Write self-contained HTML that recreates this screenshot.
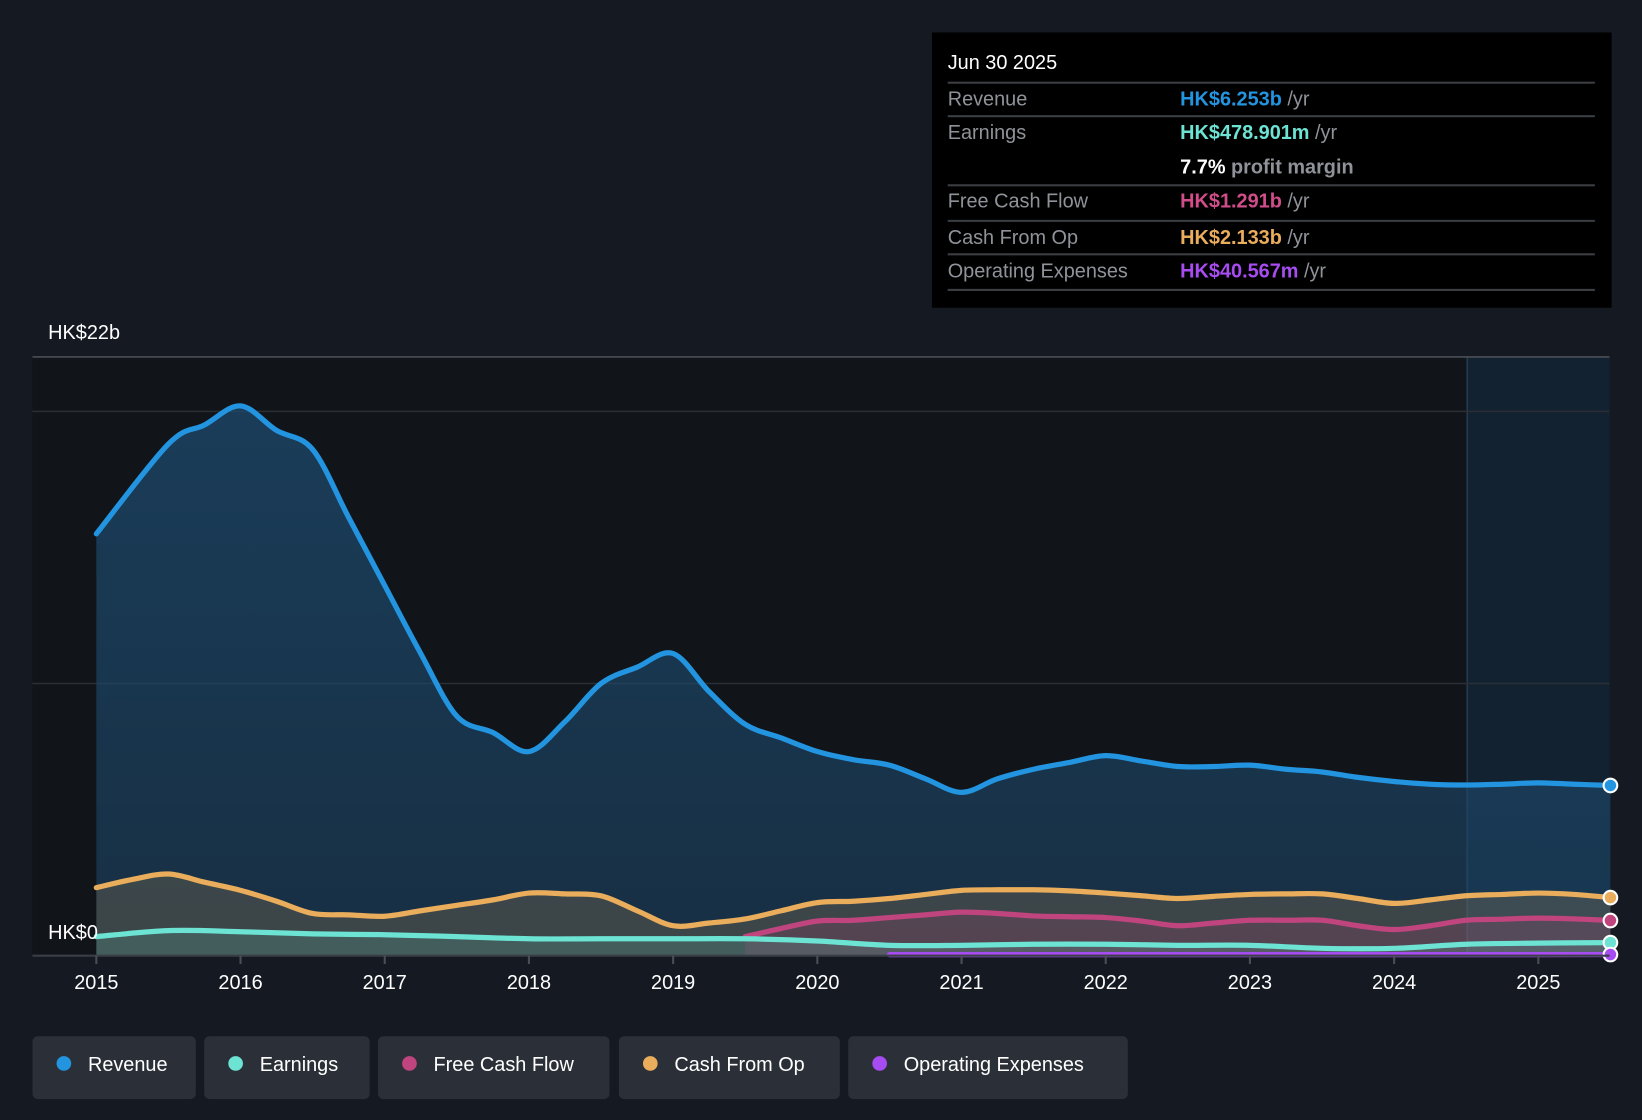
<!DOCTYPE html>
<html><head><meta charset="utf-8"><style>
html,body{margin:0;padding:0;background:#151a22;}
svg{display:block;font-family:"Liberation Sans",sans-serif;}
</style></head><body>
<svg id="chart" width="1642" height="1120" viewBox="0 0 1568 1070" preserveAspectRatio="none" xmlns="http://www.w3.org/2000/svg">
<defs>
<linearGradient id="revFill" x1="0" y1="0" x2="0" y2="1"><stop offset="0" stop-color="#1d4a6e" stop-opacity="0.75"/><stop offset="1" stop-color="#1d4a6e" stop-opacity="0.5"/></linearGradient>
</defs>
<rect x="0" y="0" width="1568" height="1070" fill="#151a22"/>
<rect x="31" y="341" width="1506" height="572" fill="#111419"/>
<rect x="1401" y="341" width="136" height="572" fill="#16304a" opacity="0.5"/>
<line x1="1401" y1="341" x2="1401" y2="913" stroke="#2a4a66" stroke-width="1"/>
<g id="grid"></g>
<g id="areas"></g>
<g id="lines"></g>
<g id="xaxis"></g>
<text x="46" y="324" fill="#fff" font-size="19">HK$22b</text>
<text x="46" y="897" fill="#fff" font-size="19">HK$0</text>

<g>
<rect x="890" y="31" width="649" height="263" fill="#000"/>
<text x="905" y="66" fill="#fff" font-size="19">Jun 30 2025</text>
<g stroke="#3a3d42" stroke-width="2">
<line x1="905" y1="79" x2="1523" y2="79"/><line x1="905" y1="111" x2="1523" y2="111"/>
<line x1="905" y1="177" x2="1523" y2="177"/><line x1="905" y1="211" x2="1523" y2="211"/>
<line x1="905" y1="243" x2="1523" y2="243"/><line x1="905" y1="277" x2="1523" y2="277"/>
</g>
<g font-size="19" fill="#8f9399">
<text x="905" y="101">Revenue</text><text x="905" y="133">Earnings</text>
<text x="905" y="198">Free Cash Flow</text><text x="905" y="233">Cash From Op</text><text x="905" y="265">Operating Expenses</text>
</g>
<g font-size="19" font-weight="bold">
<text x="1127" y="101" fill="#2394df">HK$6.253b <tspan fill="#8f9399" font-weight="normal">/yr</tspan></text>
<text x="1127" y="133" fill="#6ce3d3">HK$478.901m <tspan fill="#8f9399" font-weight="normal">/yr</tspan></text>
<text x="1127" y="166" fill="#fff">7.7% <tspan fill="#8f9399">profit margin</tspan></text>
<text x="1127" y="198" fill="#d04d8a">HK$1.291b <tspan fill="#8f9399" font-weight="normal">/yr</tspan></text>
<text x="1127" y="233" fill="#e9ad5c">HK$2.133b <tspan fill="#8f9399" font-weight="normal">/yr</tspan></text>
<text x="1127" y="265" fill="#a64cf0">HK$40.567m <tspan fill="#8f9399" font-weight="normal">/yr</tspan></text>
</g>
</g>

<g font-size="19" fill="#fff">
<g><rect x="31" y="990" width="156" height="60" rx="5" fill="#2b2f37"/><circle cx="61" cy="1016" r="7" fill="#2394df"/><text x="84" y="1023" fill="#fff">Revenue</text></g>
<g><rect x="195" y="990" width="158" height="60" rx="5" fill="#2b2f37"/><circle cx="225" cy="1016" r="7" fill="#6ce3d3"/><text x="248" y="1023" fill="#fff">Earnings</text></g>
<g><rect x="361" y="990" width="221" height="60" rx="5" fill="#2b2f37"/><circle cx="391" cy="1016" r="7" fill="#c0457f"/><text x="414" y="1023" fill="#fff">Free Cash Flow</text></g>
<g><rect x="591" y="990" width="211" height="60" rx="5" fill="#2b2f37"/><circle cx="621" cy="1016" r="7" fill="#e9ad5c"/><text x="644" y="1023" fill="#fff">Cash From Op</text></g>
<g><rect x="810" y="990" width="267" height="60" rx="5" fill="#2b2f37"/><circle cx="840" cy="1016" r="7" fill="#a64cf0"/><text x="863" y="1023" fill="#fff">Operating Expenses</text></g>
</g>
</svg>
<script>
const xTickLabels = ["2015","2016","2017","2018","2019","2020","2021","2022","2023","2024","2025"];
const gridValues = [10, 20];
const revYears = [2015,2015.5,2015.75,2016,2016.25,2016.5,2016.75,2017,2017.25,2017.5,2017.75,2018,2018.25,2018.5,2018.75,2019,2019.25,2019.5,2019.75,2020,2020.25,2020.5,2020.75,2021,2021.25,2021.5,2021.75,2022,2022.25,2022.5,2022.75,2023,2023.25,2023.5,2023.75,2024,2024.25,2024.5,2024.75,2025,2025.25,2025.5];
const revenue = [15.5,18.8,19.5,20.2,19.3,18.6,16.1,13.6,11.1,8.8,8.2,7.5,8.6,10.0,10.6,11.1,9.7,8.5,8.0,7.5,7.2,7.0,6.5,6.0,6.5,6.85,7.1,7.35,7.15,6.95,6.95,7.0,6.85,6.75,6.55,6.4,6.3,6.27,6.3,6.35,6.3,6.253];
const cfoYears = [2015,2015.25,2015.5,2015.75,2016,2016.25,2016.5,2016.75,2017,2017.25,2017.5,2017.75,2018,2018.25,2018.5,2018.75,2019,2019.25,2019.5,2019.75,2020,2020.25,2020.5,2020.75,2021,2021.25,2021.5,2021.75,2022,2022.25,2022.5,2022.75,2023,2023.25,2023.5,2023.75,2024,2024.25,2024.5,2024.75,2025,2025.25,2025.5];
const cashFromOp = [2.5,2.8,3.0,2.7,2.4,2.0,1.55,1.5,1.45,1.65,1.85,2.05,2.3,2.27,2.2,1.65,1.1,1.2,1.35,1.65,1.95,2.0,2.1,2.25,2.4,2.42,2.42,2.38,2.3,2.2,2.1,2.18,2.25,2.27,2.27,2.1,1.92,2.05,2.2,2.25,2.3,2.25,2.133];
const fcfYears = [2019.5,2019.75,2020,2020.25,2020.5,2020.75,2021,2021.25,2021.5,2021.75,2022,2022.25,2022.5,2022.75,2023,2023.25,2023.5,2023.75,2024,2024.25,2024.5,2024.75,2025,2025.25,2025.5];
const freeCashFlow = [0.7,1.0,1.27,1.3,1.4,1.5,1.6,1.55,1.46,1.43,1.4,1.27,1.1,1.2,1.3,1.3,1.3,1.1,0.96,1.1,1.3,1.34,1.38,1.35,1.291];
const earnYears = [2015,2015.5,2016,2016.5,2017,2017.5,2018,2018.5,2019,2019.5,2020,2020.5,2021,2021.5,2022,2022.5,2023,2023.5,2024,2024.5,2025,2025.5];
const earnings = [0.7,0.92,0.88,0.8,0.77,0.7,0.62,0.62,0.62,0.62,0.54,0.38,0.38,0.42,0.42,0.38,0.38,0.27,0.27,0.42,0.46,0.479];
const opexYears = [2020.5,2021,2022,2023,2024,2025,2025.5];
const opex = [0.04,0.04,0.04,0.04,0.04,0.04,0.0406];

const NS="http://www.w3.org/2000/svg";
const X0=92, PXY=137.7, Y0=913, PXV=26;
const xs = y => X0 + (y-2015)*PXY;
const ys = v => Y0 - v*PXV;
function mk(tag, attrs, parent){const e=document.createElementNS(NS,tag);for(const k in attrs)e.setAttribute(k,attrs[k]);parent.appendChild(e);return e;}
function smooth(pts){let d=`M${pts[0][0]},${pts[0][1]}`;for(let i=0;i<pts.length-1;i++){const p0=pts[i-1]||pts[i],p1=pts[i],p2=pts[i+1],p3=pts[i+2]||p2;const t=6;d+=` C${p1[0]+(p2[0]-p0[0])/t},${p1[1]+(p2[1]-p0[1])/t} ${p2[0]-(p3[0]-p1[0])/t},${p2[1]-(p3[1]-p1[1])/t} ${p2[0]},${p2[1]}`;}return d;}
const gridG=document.getElementById('grid'), areasG=document.getElementById('areas'), linesG=document.getElementById('lines'), xaxisG=document.getElementById('xaxis');
const topLine=mk('line',{x1:31,x2:1537,y1:341,y2:341,stroke:'#4a4e55','stroke-width':1.5},gridG);


gridValues.forEach(v=>{const g=mk('line',{x1:31,x2:1537,y1:ys(v),y2:ys(v),stroke:'#2a2e35','stroke-width':1.5},gridG);

});
const seriesList=[
 {name:'revenue',yrs:revYears,vals:revenue,color:'#2394df',fill:'url(#revFill)',fo:1},
 {name:'cash-from-op',yrs:cfoYears,vals:cashFromOp,color:'#e9ad5c',fill:'#e9ad5c',fo:0.18},
 {name:'free-cash-flow',yrs:fcfYears,vals:freeCashFlow,color:'#c0457f',fill:'#c0457f',fo:0.18},
 {name:'earnings',yrs:earnYears,vals:earnings,color:'#6ce3d3',fill:'#6ce3d3',fo:0.15},
 {name:'operating-expenses',yrs:opexYears,vals:opex,color:'#a64cf0',fill:'#a64cf0',fo:0.2}
];
seriesList.forEach(s=>{
 const pts=s.yrs.map((y,i)=>[xs(y),ys(s.vals[i])]);
 const d=smooth(pts);
 const a=mk('path',{d:d+` L${pts[pts.length-1][0]},${Y0} L${pts[0][0]},${Y0} Z`,fill:s.fill,'fill-opacity':s.fo},areasG);
 
 
 const l=mk('path',{d:d,fill:'none',stroke:s.color,'stroke-width':5,'stroke-linecap':'round'},linesG);
 
 
 const last=pts[pts.length-1];
 const c=mk('circle',{cx:last[0],cy:last[1],r:6.5,fill:s.color,stroke:'#fff','stroke-width':2},linesG);
 
 
});
const base=mk('line',{x1:31,x2:1537,y1:Y0,y2:Y0,stroke:'#3a3e46','stroke-width':2},xaxisG);


xTickLabels.forEach(lbl=>{const x=xs(+lbl);
 const t=mk('line',{x1:x,x2:x,y1:Y0,y2:Y0+8,stroke:'#4a4e55','stroke-width':2},xaxisG);
 
 
 const tx=mk('text',{x:x,y:945,'text-anchor':'middle',fill:'#fff','font-size':19},xaxisG);
 tx.textContent=lbl;
 
 
});
</script>
</body></html>
